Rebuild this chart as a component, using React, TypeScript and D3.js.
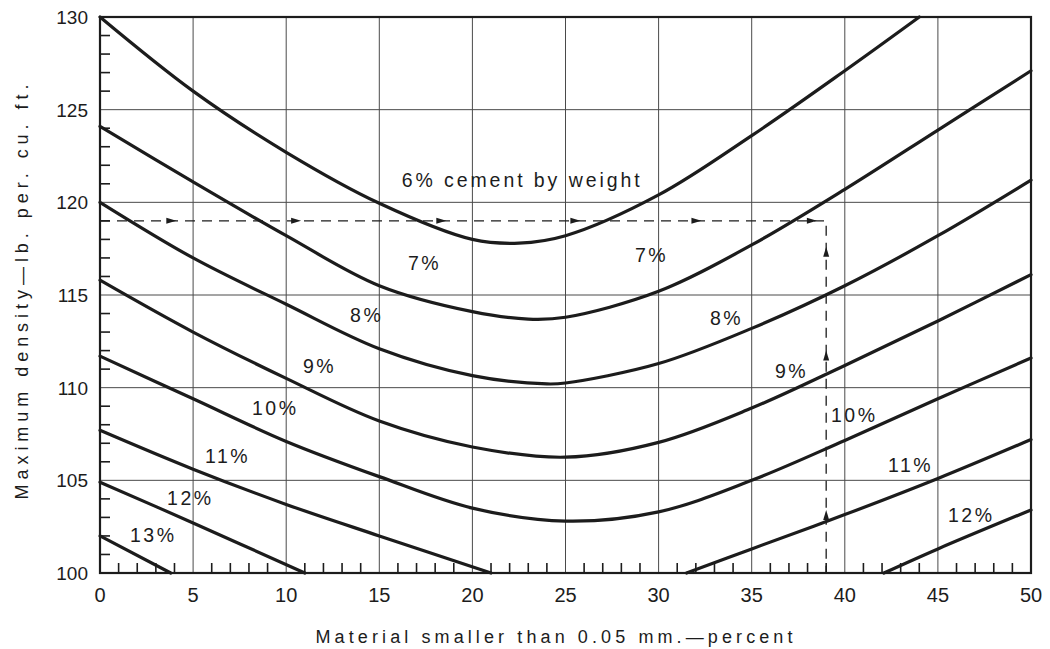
import React from 'react';
import * as d3 from 'd3';

// ---- data ----
const xTicks = [0, 5, 10, 15, 20, 25, 30, 35, 40, 45, 50];
const yTicks = [100, 105, 110, 115, 120, 125, 130];

const cement6 = [[0, 130], [5, 126.0], [10, 122.7], [15, 119.95], [20, 118.0], [22.5, 117.8], [25, 118.2], [30, 120.4], [35, 123.6], [40, 127.1], [44, 130]];
const cement7 = [[0, 124.1], [5, 121.1], [10, 118.2], [15, 115.5], [20, 114.1], [23, 113.7], [25, 113.8], [30, 115.2], [35, 117.7], [40, 120.7], [45, 123.9], [50, 127.1]];
const cement8 = [[0, 120.0], [5, 117.0], [10, 114.5], [15, 112.1], [20, 110.65], [24, 110.2], [25, 110.25], [30, 111.3], [35, 113.2], [40, 115.5], [45, 118.2], [50, 121.2]];
const cement9 = [[0, 115.8], [5, 113.0], [10, 110.5], [15, 108.2], [20, 106.8], [25, 106.25], [30, 107.05], [35, 108.9], [40, 111.2], [45, 113.6], [50, 116.1]];
const cement10 = [[0, 111.7], [5, 109.4], [10, 107.1], [15, 105.2], [20, 103.5], [25, 102.8], [30, 103.3], [35, 105.0], [40, 107.15], [45, 109.4], [50, 111.6]];
const cement11Left = [[0, 107.7], [5, 105.6], [10, 103.7], [15, 102.0], [21, 100]];
const cement11Right = [[31.5, 100], [35, 101.3], [40, 103.15], [45, 105.1], [50, 107.2]];
const cement12Left = [[0, 104.9], [5, 102.7], [11, 100]];
const cement12Right = [[42.1, 100], [45, 101.3], [50, 103.4]];
const cement13 = [[0, 102.0], [3.8, 100]];

const curveSeries = [cement6, cement7, cement8, cement9, cement10, cement11Left, cement11Right, cement12Left, cement12Right, cement13];

const labelTexts = ['6% cement by weight', '7%', '7%', '8%', '8%', '9%', '9%', '10%', '10%', '11%', '11%', '12%', '12%', '13%'];
const labelX = [16.2, 16.54, 28.73, 13.43, 32.76, 10.9, 36.25, 8.16, 39.26, 5.64, 42.32, 3.6, 45.54, 1.61];
const labelY = [120.85, 116.35, 116.8, 113.56, 113.38, 110.8, 110.5, 108.53, 108.17, 105.95, 105.47, 103.67, 102.77, 101.69];

// example construction (dashed)
const exampleDensity = 119;
const exampleMaterial = 39;
const arrowRightX = [4.1, 10.8, 18.6, 25.8, 32.3, 38.5];
const arrowUpY = [103.4, 112.0, 117.6];

const W = 1050;
const H = 649;
const FONT = "'Liberation Sans', 'DejaVu Sans', sans-serif";
const INK = '#1c1c1c';

export default function App() {
  const x = d3.scaleLinear().domain([0, 50]).range([100, 1031]);
  const y = d3.scaleLinear().domain([100, 130]).range([573, 17]);

  const line = d3
    .line<number[]>()
    .x((d) => x(d[0]))
    .y((d) => y(d[1]))
    .curve(d3.curveCatmullRom.alpha(0.5));

  const minorX = d3.range(1, 50).filter((v) => v % 5 !== 0);
  const minorY = d3.range(101, 130).filter((v) => v % 5 !== 0);

  const x0 = x(0), x1 = x(50), y0 = y(100), y1 = y(130);

  return (
    <svg width={W} height={H} style={{ position: 'absolute', left: 0, top: 0, background: '#fff' }} fontFamily={FONT}>
      <rect x={0} y={0} width={W} height={H} fill="#fff" />
      {/* grid */}
      {xTicks.map((t) => (
        <line key={'gx' + t} x1={x(t)} x2={x(t)} y1={y1} y2={y0} stroke="#4a4a4a" strokeWidth={1} />
      ))}
      {yTicks.map((t) => (
        <line key={'gy' + t} x1={x0} x2={x1} y1={y(t)} y2={y(t)} stroke="#4a4a4a" strokeWidth={1} />
      ))}
      {/* minor ticks */}
      {minorX.map((t) => (
        <line key={'mx' + t} x1={x(t)} x2={x(t)} y1={y0} y2={y0 - 10} stroke={INK} strokeWidth={1.6} />
      ))}
      {minorY.map((t) => (
        <line key={'my' + t} x1={x0} x2={x0 + 10} y1={y(t)} y2={y(t)} stroke={INK} strokeWidth={1.6} />
      ))}
      {/* frame */}
      <rect x={x0} y={y1} width={x1 - x0} height={y0 - y1} fill="none" stroke={INK} strokeWidth={2.2} />

      {/* dashed example */}
      <path
        d={`M${x(0)},${y(exampleDensity)} H${x(exampleMaterial)} V${y(100)}`}
        fill="none"
        stroke={INK}
        strokeWidth={1.3}
        strokeDasharray="10,7"
      />
      {arrowRightX.map((v, i) => {
        const px = x(v), py = y(exampleDensity);
        return <polygon key={'ar' + i} points={`${px},${py} ${px - 10},${py - 3} ${px - 10},${py + 3}`} fill={INK} />;
      })}
      {arrowUpY.map((v, i) => {
        const px = x(exampleMaterial), py = y(v);
        return <polygon key={'au' + i} points={`${px},${py} ${px - 3},${py + 10} ${px + 3},${py + 10}`} fill={INK} />;
      })}

      {/* curves */}
      {curveSeries.map((s, i) => (
        <path key={'c' + i} d={line(s) || ''} fill="none" stroke={INK} strokeWidth={3.2} strokeLinecap="round" />
      ))}

      {/* curve labels */}
      {labelTexts.map((t, i) =>
        i === 0 ? (
          <text key={'l' + i} x={x(labelX[i])} y={y(labelY[i])} fontSize={19.5} fill={INK} textLength={238} lengthAdjust="spacing">
            {t}
          </text>
        ) : (
          <text key={'l' + i} x={x(labelX[i])} y={y(labelY[i])} fontSize={19.5} fill={INK} letterSpacing={2.5}>
            {t}
          </text>
        )
      )}

      {/* tick labels */}
      {yTicks.map((t) => (
        <text key={'ty' + t} x={88} y={y(t) + 7} fontSize={19} textAnchor="end" fill={INK}>
          {t}
        </text>
      ))}
      {xTicks.map((t) => (
        <text key={'tx' + t} x={x(t)} y={602} fontSize={20} textAnchor="middle" fill={INK}>
          {t}
        </text>
      ))}

      {/* axis titles */}
      <text
        x={0}
        y={0}
        transform={`translate(28,292) rotate(-90)`}
        textAnchor="middle"
        fontSize={18}
        fill={INK}
        textLength={415}
        lengthAdjust="spacing"
      >
        Maximum density—lb. per. cu. ft.
      </text>
      <text x={554} y={643} textAnchor="middle" fontSize={18} fill={INK} textLength={477} lengthAdjust="spacing">
        Material smaller than 0.05 mm.—percent
      </text>
    </svg>
  );
}
